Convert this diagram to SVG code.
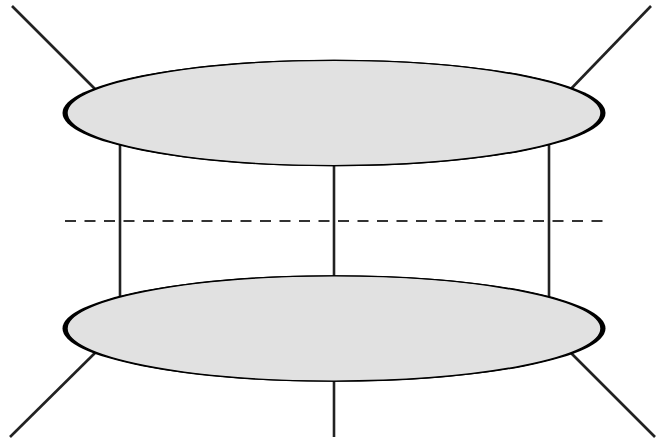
<svg xmlns="http://www.w3.org/2000/svg" width="664" height="443" viewBox="0 0 664 443">
<style>
.edge{stroke:#222;stroke-width:2.6;fill:none}
.dash{stroke:#333;stroke-width:2;stroke-dasharray:11 8.5;fill:none}
.rim{fill:#000}
.disk{fill:#e1e1e1;stroke:#000;stroke-width:1.4}
</style>
<rect width="664" height="443" fill="#fff"/>
<g id="connectors">
<line class="edge" x1="12" y1="6" x2="100" y2="94"/>
<line class="edge" x1="651" y1="6" x2="566" y2="94"/>
<line class="edge" x1="10" y1="437" x2="100" y2="348"/>
<line class="edge" x1="655" y1="437" x2="566" y2="348"/>
<line class="edge" x1="120" y1="140" x2="120" y2="300"/>
<line class="edge" x1="334" y1="160" x2="334" y2="280"/>
<line class="edge" x1="549" y1="140" x2="549" y2="300"/>
<line class="edge" x1="334" y1="375" x2="334" y2="437"/>
<line class="dash" x1="65" y1="221" x2="604" y2="221"/>
</g>
<g id="top-disk">
<ellipse class="rim" cx="334" cy="113" rx="271.5" ry="53.3"/>
<ellipse class="disk" cx="334" cy="113" rx="267" ry="52.6"/>
</g>
<g id="bottom-disk">
<ellipse class="rim" cx="334" cy="328.5" rx="271.5" ry="53.3"/>
<ellipse class="disk" cx="334" cy="328.5" rx="267" ry="52.6"/>
</g>
</svg>
